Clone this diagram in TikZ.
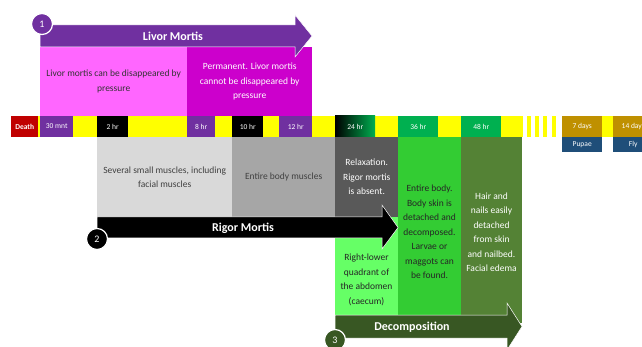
\documentclass[tikz,border=0pt]{standalone}
\usepackage{fontspec}
\setmainfont{Carlito}
\usepackage{tikz}
\usetikzlibrary{shapes,arrows,positioning}
\definecolor{tlyellow}{RGB}{255,255,0}
\definecolor{tlred}{RGB}{192,0,0}
\definecolor{livor}{RGB}{112,48,160}
\definecolor{livorA}{RGB}{255,102,255}
\definecolor{livorB}{RGB}{204,0,204}
\definecolor{rigorA}{RGB}{217,217,217}
\definecolor{rigorB}{RGB}{166,166,166}
\definecolor{rigorC}{RGB}{89,89,89}
\definecolor{decA}{RGB}{102,255,102}
\definecolor{decB}{RGB}{51,204,51}
\definecolor{decC}{RGB}{84,130,53}
\definecolor{decD}{RGB}{56,87,35}
\definecolor{hrgreen}{RGB}{0,176,80}
\definecolor{daygold}{RGB}{191,144,0}
\definecolor{dayblue}{RGB}{31,78,121}
\tikzstyle{tick} = [rectangle, inner sep=0pt, minimum height=21pt, text=white,
    font=\fontsize{7.5}{8}\selectfont]
\tikzstyle{panel} = [rectangle, inner sep=0pt, align=center, anchor=north west,
    font=\fontsize{9.5}{14.5}\selectfont]
\tikzstyle{words} = [inner sep=0pt, align=center, font=\fontsize{9.5}{14.5}\selectfont]
\tikzstyle{banner} = [draw=white, line width=0.5pt]
\tikzstyle{title} = [text=white, font=\fontsize{12}{13}\selectfont\bfseries]
\tikzstyle{badge} = [circle, draw=white, line width=1.2pt, minimum size=21pt,
    inner sep=0pt, text=white, font=\fontsize{10}{11}\selectfont]

\begin{document}
\begin{tikzpicture}[x=1pt, y=-1pt]
    \clip (0,0) rectangle (642,347);
    % Timeline
    \fill[tlyellow] (38,116) rectangle (523,137);
    \fill[tlyellow] (602,116) rectangle (642,137);
    \foreach \x in {527,535,543,552}
        \fill[tlyellow] (\x,116) rectangle +(4,21);
    \node [tick, fill=tlred, minimum width=27pt, anchor=west,
        font=\fontsize{7.5}{8}\selectfont\bfseries] (death) at (11,126.5) {Death};
    \node [tick, fill=livor, minimum width=33pt, anchor=west] (m30) at (40,126.5) {30 mnt};
    \node [tick, fill=black, minimum width=31pt, anchor=west] (h2) at (97,126.5) {2 hr};
    \node [tick, fill=livor, minimum width=28pt, anchor=west] (h8) at (187,126.5) {8 hr};
    \node [tick, fill=black, minimum width=31pt, anchor=west] (h10) at (232,126.5) {10 hr};
    \node [tick, fill=livor, minimum width=33pt, anchor=west] (h12) at (279,126.5) {12 hr};
    \node [tick, left color=black, middle color=black!80!hrgreen, right color=hrgreen,
        minimum width=40pt, anchor=west] (h24) at (335,126.5) {24 hr};
    \node [tick, fill=hrgreen, minimum width=40pt, anchor=west] (h36) at (398,126.5) {36 hr};
    \node [tick, fill=hrgreen, minimum width=40pt, anchor=west] (h48) at (461,126.5) {48 hr};
    \node [tick, fill=daygold, minimum width=40pt, anchor=west] (d7) at (562,126.5) {7 days};
    \node [tick, fill=daygold, minimum width=40pt, anchor=west] (d14) at (613,126.5) {14 days};
    \node [tick, fill=dayblue, minimum width=40pt, minimum height=15pt,
        below=0pt of d7] (pupae) {Pupae};
    \node [tick, fill=dayblue, minimum width=40pt, minimum height=15pt,
        below=0pt of d14] (fly) {Fly};

    % Livor mortis
    \node [panel, fill=livorA, text=black!80, minimum width=147pt, minimum height=69pt]
        (lv1) at (40,47) {Livor mortis can be disappeared by\\pressure};
    \node [panel, fill=livorB, text=white, minimum width=125pt, minimum height=69pt]
        (lv2) at (187,47) {Permanent. Livor mortis\\cannot be disappeared by\\pressure};

    % Rigor mortis
    \node [panel, fill=rigorA, text=black!75, minimum width=135pt, minimum height=80pt]
        (rg1) at (97,137) {Several small muscles, including\\facial muscles};
    \node [panel, fill=rigorB, text=black!75, minimum width=103pt, minimum height=80pt]
        (rg2) at (232,137) {Entire body muscles};
    \node [panel, fill=rigorC, text=white, minimum width=63pt, minimum height=80pt]
        (rg3) at (335,137) {Relaxation.\\Rigor mortis\\is absent.};

    % Decomposition
    \fill [decA] (335,217) rectangle (398,315);
    \fill [decB] (398,137) rectangle (461,315);
    \fill [decC] (461,137) rectangle (522,323);
    \node [words, text=black!85] (dc1) at (366.5,280)
        {Right-lower\\quadrant of\\the abdomen\\(caecum)};
    \node [words, text=black!85] (dc2) at (429.5,232)
        {Entire body.\\Body skin is\\detached and\\decomposed.\\Larvae or\\maggots can\\be found.};
    \node [words, text=white] (dc3) at (491.5,232)
        {Hair and\\nails easily\\detached\\from skin\\and nailbed.\\Facial edema};

    % Banners
    \filldraw [banner, fill=livor] (40,25) -- (295,25) -- (295,15) -- (312,36)
        -- (295,57) -- (295,47) -- (40,47) -- cycle;
    \filldraw [banner, fill=black] (97,217) -- (382,217) -- (382,205) -- (398,227.5)
        -- (382,249) -- (382,238) -- (97,238) -- cycle;
    \filldraw [banner, fill=decD] (335,315) -- (507,315) -- (507,303) -- (522,326.5)
        -- (507,350) -- (507,338) -- (335,338) -- cycle;
    \node [title] (livortitle) at (173,36) {Livor Mortis};
    \node [title] (rigortitle) at (243,228) {Rigor Mortis};
    \node [title] (dectitle) at (412,327) {Decomposition};

    % Numbers
    \node [badge, fill=livor] (one) at (42,24) {1};
    \node [badge, fill=black] (two) at (97,239) {2};
    \node [badge, fill=decD] (three) at (335,340) {3};
\end{tikzpicture}
\end{document}
